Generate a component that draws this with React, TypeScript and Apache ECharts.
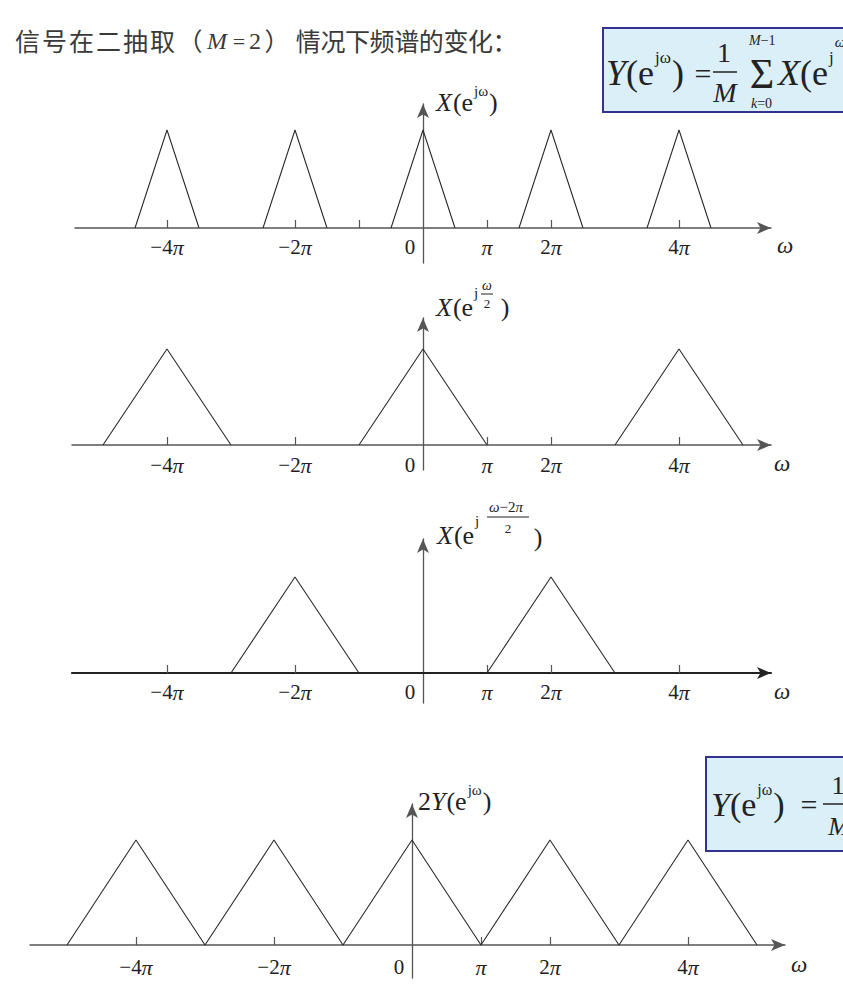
import React, { useEffect, useRef } from 'react';
import * as echarts from 'echarts';

// ---------- data (ω in units of π, magnitude normalised to 1) ----------
const ticksTop = [-4, -2, -1, 1, 2, 4];
const ticksOther = [-4, -2, 1, 2, 4];
const tickLabels = [-4, -2, 0, 1, 2, 4];

// X(e^{jω})
const spectrumX: number[][][] = [
  [[-4.5, 0], [-4, 1], [-3.5, 0]],
  [[-2.5, 0], [-2, 1], [-1.5, 0]],
  [[-0.5, 0], [0, 1], [0.5, 0]],
  [[1.5, 0], [2, 1], [2.5, 0]],
  [[3.5, 0], [4, 1], [4.5, 0]],
];
// X(e^{jω/2})
const spectrumHalf: number[][][] = [
  [[-5, 0], [-4, 1], [-3, 0]],
  [[-1, 0], [0, 1], [1, 0]],
  [[3, 0], [4, 1], [5, 0]],
];
// X(e^{j(ω-2π)/2})
const spectrumShift: number[][][] = [
  [[-3, 0], [-2, 1], [-1, 0]],
  [[1, 0], [2, 1], [3, 0]],
];
// 2Y(e^{jω})
const spectrumSum: number[][][] = [
  [[-5, 0], [-4, 1], [-3, 0], [-2, 1], [-1, 0], [0, 1], [1, 0], [2, 1], [3, 0], [4, 1], [5, 0]],
];

// ---------- layout ----------
const panels = [
  { left: 75, width: 696, xMin: -5.4375, xMax: 5.4375, top: 104, height: 159, yMin: -0.357, yMax: 1.265, labelMargin: -27, ticks: ticksTop, tris: spectrumX, axisW: 1.5, axisC: '#555' },
  { left: 72, width: 699, xMin: -5.484, xMax: 5.4375, top: 318, height: 152, yMin: -0.26, yMax: 1.323, labelMargin: -16, ticks: ticksOther, tris: spectrumHalf, axisW: 1.5, axisC: '#555' },
  { left: 72, width: 699, xMin: -5.484, xMax: 5.4375, top: 539, height: 164, yMin: -0.3125, yMax: 1.396, labelMargin: -22, ticks: ticksOther, tris: spectrumShift, axisW: 2.2, axisC: '#222' },
  { left: 30, width: 755, xMin: -5.536, xMax: 5.406, top: 804, height: 174, yMin: -0.314, yMax: 1.343, labelMargin: -22, ticks: ticksOther, tris: spectrumSum, axisW: 1.5, axisC: '#555' },
];

const SERIF = '"Liberation Serif", "Times New Roman", serif';
const CJK = '"Noto Sans CJK SC", sans-serif';
const INK = '#222';

const cv = typeof document !== 'undefined' ? document.createElement('canvas').getContext('2d') : null;
function mw(text: string, size: number, italic: boolean, fam: string) {
  if (!cv) return text.length * size * 0.5;
  cv.font = `${italic ? 'italic ' : ''}${size}px ${fam}`;
  return cv.measureText(text).width;
}
type Piece = { t: string; s: number; i?: boolean; dy?: number; f?: string; gap?: number };
function seq(x0: number, y: number, pieces: Piece[], fill = INK, z = 20) {
  const out: any[] = [];
  let x = x0;
  for (const p of pieces) {
    const fam = p.f || SERIF;
    out.push({
      type: 'text', x, y: y + (p.dy || 0), z, silent: true,
      style: { text: p.t, fontSize: p.s, fontFamily: fam, fontStyle: p.i ? 'italic' : 'normal', fill, align: 'left', verticalAlign: 'middle' },
    });
    x += mw(p.t, p.s, !!p.i, fam) + (p.gap || 0);
  }
  return out;
}
function ctext(x: number, y: number, t: string, s: number, italic = false, z = 20, fill = INK, fam = SERIF) {
  return { type: 'text', x, y, z, silent: true, style: { text: t, fontSize: s, fontFamily: fam, fontStyle: italic ? 'italic' : 'normal', fill, align: 'center', verticalAlign: 'middle' } };
}
function hline(x1: number, x2: number, y: number, w = 1.5, z = 20) {
  return { type: 'line', z, silent: true, shape: { x1, y1: y, x2, y2: y }, style: { stroke: INK, lineWidth: w } };
}
function chars(x0: number, y: number, s: string, adv: number, size: number, fill: string) {
  return Array.from(s).map((c, k) => ctext(x0 + adv * k + adv / 2, y, c, size, false, 20, fill, CJK));
}

function buildOption() {
  const grid = panels.map((p) => ({ left: p.left, width: p.width, top: p.top, height: p.height }));
  const xAxis = panels.map((p, i) => ({
    type: 'value', gridIndex: i, min: p.xMin, max: p.xMax,
    splitLine: { show: false },
    axisLine: { show: true, onZero: true, symbol: ['none', 'arrow'], symbolSize: [9, 14], lineStyle: { color: p.axisC, width: p.axisW } },
    axisTick: { show: true, inside: true, length: 8, customValues: p.ticks, lineStyle: { color: '#555', width: 1.2 } },
    axisLabel: {
      show: true, margin: p.labelMargin, customValues: tickLabels, hideOverlap: false,
      formatter: (v: number) => {
        const n = Math.round(v);
        if (n === 0) return '{z|0}';
        if (n === 1) return '{p|π}';
        return `{n|${n < 0 ? '−' : ''}${Math.abs(n)}}{p|π}`;
      },
      rich: {
        n: { fontFamily: SERIF, fontSize: 21, color: INK },
        p: { fontFamily: SERIF, fontStyle: 'italic', fontSize: 22, color: INK },
        z: { fontFamily: SERIF, fontSize: 21, color: INK, padding: [0, 26, 0, 0] },
      },
    },
  }));
  const yAxis = panels.map((p, i) => ({
    type: 'value', gridIndex: i, min: p.yMin, max: p.yMax,
    splitLine: { show: false }, axisTick: { show: false }, axisLabel: { show: false },
    axisLine: { show: true, onZero: true, symbol: ['none', 'arrow'], symbolSize: [9, 14], lineStyle: { color: '#555', width: 1.3 } },
  }));
  const series: any[] = [];
  panels.forEach((p, i) => {
    p.tris.forEach((tri) => {
      series.push({
        type: 'line', xAxisIndex: i, yAxisIndex: i, data: tri, symbol: 'none', showSymbol: false, silent: true,
        lineStyle: { color: '#2a2a2a', width: 1.1 },
      });
    });
  });

  const graphic: any[] = [];
  // title
  const TC = '#3a3a3a';
  graphic.push(...chars(14, 40, '信号在二抽取', 27, 25, TC));
  graphic.push(ctext(190, 40, '（', 25, false, 20, TC, CJK));
  graphic.push(ctext(217, 41, 'M', 24, true, 20, TC));
  graphic.push(ctext(239, 41, '=', 22, false, 20, TC));
  graphic.push(ctext(255, 41, '2', 24, false, 20, TC));
  graphic.push(ctext(277, 40, '）', 25, false, 20, TC, CJK));
  graphic.push(...chars(296, 40, '情况下频谱的变化：', 24.6, 25, TC));

  // formula box 1
  graphic.push({ type: 'rect', z: 10, silent: true, shape: { x: 603, y: 28, width: 300, height: 84 }, style: { fill: '#daeff8', stroke: '#33338f', lineWidth: 2 } });
  graphic.push(...seq(606, 73, [
    { t: 'Y', s: 36, i: true },
    { t: '(e', s: 36, gap: 1 },
    { t: 'jω', s: 17, dy: -16, gap: 1 },
    { t: ')', s: 36, gap: 3 },
  ]));
  graphic.push(ctext(703, 73, '=', 30));
  graphic.push(ctext(724, 52, '1', 28));
  graphic.push(hline(713, 737, 72));
  graphic.push(ctext(725, 92, 'M', 28, true));
  graphic.push(ctext(762, 74, 'Σ', 42));
  graphic.push(...seq(749, 40, [{ t: 'M', s: 14, i: true }, { t: '−1', s: 14 }]));
  graphic.push(...seq(751, 103, [{ t: 'k', s: 14, i: true }, { t: '=0', s: 14 }]));
  graphic.push(...seq(778, 73, [
    { t: 'X', s: 36, i: true },
    { t: '(e', s: 36, gap: 1 },
    { t: 'j', s: 17, dy: -16 },
  ]));
  graphic.push(ctext(840, 42, 'ω', 15, true));

  // formula box 2
  graphic.push({ type: 'rect', z: 10, silent: true, shape: { x: 706, y: 757, width: 200, height: 94 }, style: { fill: '#daeff8', stroke: '#33338f', lineWidth: 2 } });
  graphic.push(...seq(711, 804, [
    { t: 'Y', s: 34, i: true },
    { t: '(e', s: 34, gap: 1 },
    { t: 'jω', s: 16, dy: -15, gap: 1 },
    { t: ')', s: 34 },
  ]));
  graphic.push(ctext(809, 804, '=', 30));
  graphic.push(hline(823, 850, 804));
  graphic.push(ctext(838, 785, '1', 26));
  graphic.push(ctext(839, 826, 'M', 26, true));

  // axis names
  graphic.push(...seq(436, 102, [
    { t: 'X', s: 26, i: true, gap: 1 },
    { t: '(e', s: 26, gap: 1 },
    { t: 'jω', s: 15, dy: -11, gap: 1 },
    { t: ')', s: 26 },
  ]));
  graphic.push(...seq(436, 307, [
    { t: 'X', s: 26, i: true, gap: 1 },
    { t: '(e', s: 26, gap: 1 },
    { t: 'j', s: 15, dy: -14, gap: 1 },
  ]));
  graphic.push(ctext(487, 285, 'ω', 14, true));
  graphic.push({ type: 'line', z: 20, silent: true, shape: { x1: 481, y1: 294, x2: 493, y2: 294 }, style: { stroke: INK, lineWidth: 1 } });
  graphic.push(ctext(487, 303, '2', 13));
  graphic.push(ctext(505, 307, ')', 26));

  graphic.push(...seq(437, 535, [
    { t: 'X', s: 26, i: true, gap: 1 },
    { t: '(e', s: 26, gap: 1 },
    { t: 'j', s: 15, dy: -14, gap: 1 },
  ]));
  graphic.push(...seq(489, 507, [{ t: 'ω', s: 15, i: true }, { t: '−2', s: 15 }, { t: 'π', s: 15, i: true }]));
  graphic.push({ type: 'line', z: 20, silent: true, shape: { x1: 487, y1: 517, x2: 529, y2: 517 }, style: { stroke: INK, lineWidth: 1 } });
  graphic.push(ctext(508, 528, '2', 13));
  graphic.push(ctext(538, 537, ')', 26));

  graphic.push(...seq(418, 801, [
    { t: '2', s: 26 },
    { t: 'Y', s: 26, i: true, gap: 1 },
    { t: '(e', s: 26, gap: 1 },
    { t: 'jω', s: 15, dy: -11, gap: 1 },
    { t: ')', s: 26 },
  ]));

  // ω labels
  graphic.push(ctext(785, 245, 'ω', 23, true));
  graphic.push(ctext(782, 463, 'ω', 23, true));
  graphic.push(ctext(782, 691, 'ω', 23, true));
  graphic.push(ctext(799, 964, 'ω', 23, true));

  return {
    animation: false,
    backgroundColor: '#ffffff',
    grid, xAxis, yAxis, series, graphic,
  };
}

export default function App() {
  const ref = useRef<HTMLDivElement>(null);
  useEffect(() => {
    if (!ref.current) return;
    const chart = echarts.init(ref.current, undefined, { renderer: 'svg' });
    chart.setOption(buildOption() as any);
    return () => chart.dispose();
  }, []);
  return <div ref={ref} style={{ position: 'fixed', left: 0, top: 0, width: 843, height: 997, background: '#fff' }} />;
}
